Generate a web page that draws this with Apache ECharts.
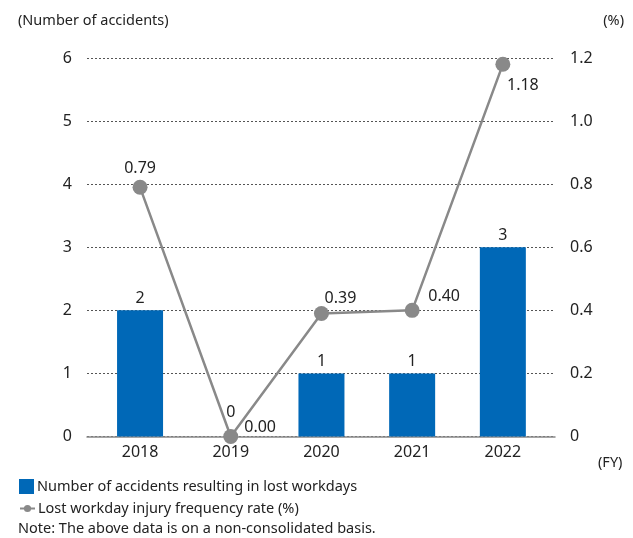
<!DOCTYPE html>
<html><head><meta charset="utf-8">
<script src="https://cdn.jsdelivr.net/npm/echarts@6/dist/echarts.min.js"></script>
<style>html,body{margin:0;padding:0;background:#fff}#c{width:633px;height:538px}</style>
</head><body><div id="c"></div>
<script>
const years = [2018, 2019, 2020, 2021, 2022];
const accidents = [2, 0, 1, 1, 3];
const rates = [0.79, 0.00, 0.39, 0.40, 1.18];
const rateLabels = ['0.79', '0.00', '0.39', '0.40', '1.18'];
const leftTicks = [0, 1, 2, 3, 4, 5, 6];
const rightTicks = [0, 0.2, 0.4, 0.6, 0.8, 1.0, 1.2];
const barName = 'Number of accidents resulting in lost workdays';
const lineName = 'Lost workday injury frequency rate (%)';

const FONT = '"Noto Sans", sans-serif';
const TXT = '#222';
const labelPlace = [
  {position: 'top', offset: [0, 3]},
  {position: 'right', offset: [0, -9]},
  {position: 'top', offset: [19, 6]},
  {position: 'top', offset: [32, 8]},
  {position: 'bottom', offset: [20, 0]}
];

const chart = echarts.init(document.getElementById('c'), null, {renderer: 'canvas'});
chart.setOption({
  animation: false,
  textStyle: {fontFamily: FONT},
  grid: {left: 87, right: 78, top: 58, bottom: 101.5, containLabel: false},
  legend: [
    {data: [barName], left: 14, top: 474, itemWidth: 15, itemHeight: 15, itemGap: 4,
     icon: 'rect', textStyle: {fontFamily: FONT, fontSize: 14.5, color: TXT, padding: [0, 0, 0, -2]}},
    {data: [lineName], left: 14, top: 496, itemWidth: 15, itemHeight: 9, itemGap: 4,
     textStyle: {fontFamily: FONT, fontSize: 14.5, color: TXT, padding: [0, 0, 0, -2]}}
  ],
  xAxis: {
    type: 'value', min: 2017.415, max: 2022.575,
    axisLine: {show: true, lineStyle: {color: '#888', width: 1.5}},
    axisTick: {show: false},
    splitLine: {show: false},
    axisLabel: {customValues: years, formatter: v => String(v), fontSize: 16, color: TXT, margin: 8, fontFamily: FONT}
  },
  yAxis: [
    {type: 'value', min: 0, max: 6, interval: 1, position: 'left',
     name: '(Number of accidents)', nameLocation: 'end', nameGap: 30,
     nameTextStyle: {fontSize: 14.5, color: TXT, align: 'left', padding: [0, 0, 0, -69], fontFamily: FONT},
     axisLine: {show: false}, axisTick: {show: false},
     axisLabel: {fontSize: 16, color: TXT, margin: 15, fontFamily: FONT, customValues: leftTicks},
     splitLine: {show: true, lineStyle: {color: '#555', type: [2, 2], width: 1}}},
    {type: 'value', min: 0, max: 1.2, interval: 0.2, position: 'right',
     name: '(%)', nameLocation: 'end', nameGap: 30,
     nameTextStyle: {fontSize: 14.5, color: TXT, align: 'right', padding: [0, -69, 0, 0], fontFamily: FONT},
     axisLine: {show: false}, axisTick: {show: false},
     axisLabel: {fontSize: 16, color: TXT, margin: 15, fontFamily: FONT, customValues: rightTicks,
       formatter: v => v === 0 ? '0' : v.toFixed(1)},
     splitLine: {show: false}}
  ],
  series: [
    {name: barName, type: 'bar', yAxisIndex: 0, barWidth: 46,
     itemStyle: {color: '#0068b7'},
     label: {show: true, position: 'top', distance: 4, fontSize: 16, color: TXT, fontFamily: FONT},
     data: years.map((y, i) => accidents[i] === 0
       ? {value: [y, accidents[i]], label: {distance: 16}}
       : [y, accidents[i]])},
    {name: lineName, type: 'line', yAxisIndex: 1, symbol: 'circle', symbolSize: 15,
     itemStyle: {color: '#898989'}, lineStyle: {color: '#898989', width: 2.5},
     z: 5,
     data: years.map((y, i) => ({
       value: [y, rates[i]],
       label: {show: true, position: labelPlace[i].position, offset: labelPlace[i].offset, distance: 6,
               formatter: rateLabels[i], fontSize: 16, color: TXT, fontFamily: FONT}
     }))}
  ],
  graphic: [
    {type: 'text', left: 598, top: 455, style: {text: '(FY)', font: '14.5px ' + FONT, fill: TXT}},
    {type: 'text', left: 18, top: 521, style: {text: 'Note: The above data is on a non-consolidated basis.', font: '14.5px ' + FONT, fill: TXT}}
  ]
});
</script></body></html>
